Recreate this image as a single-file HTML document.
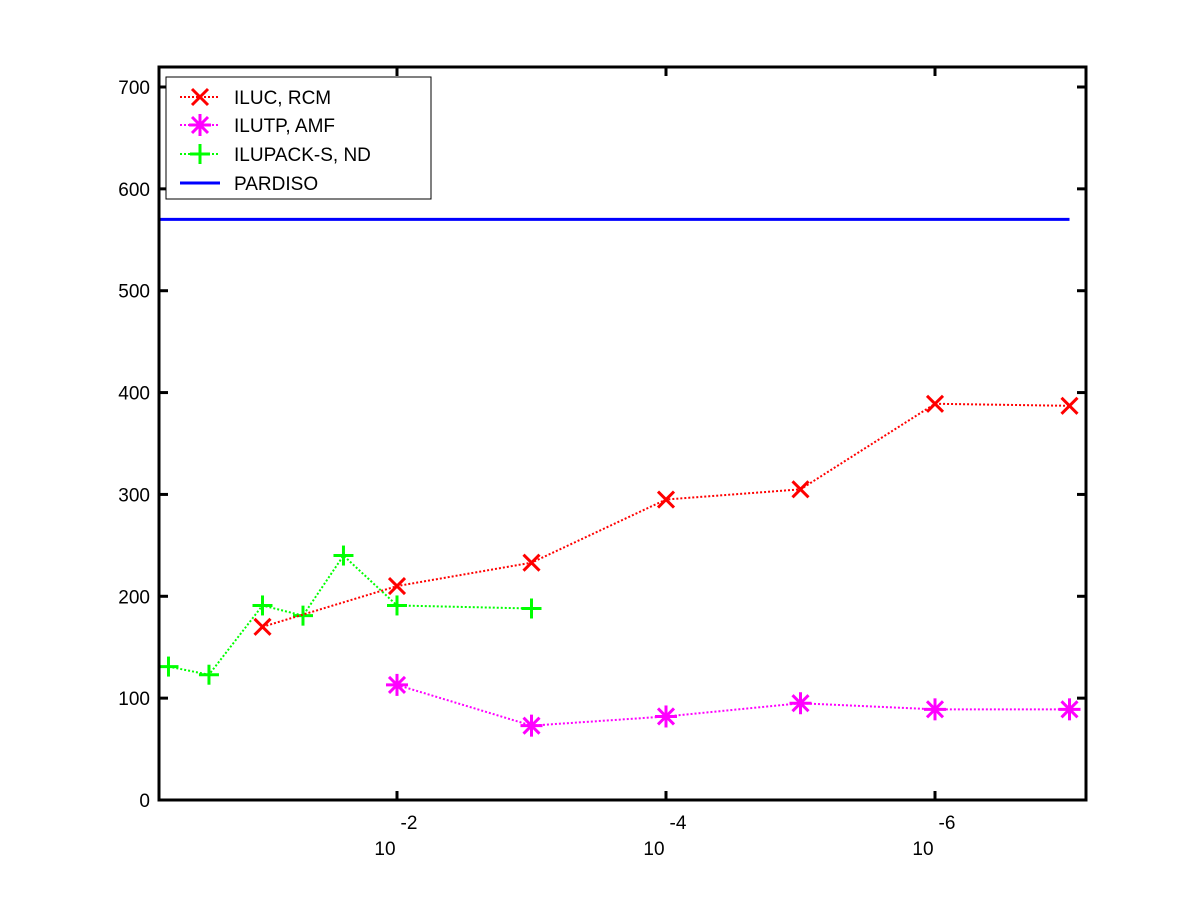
<!DOCTYPE html>
<html><head><meta charset="utf-8"><style>
body{margin:0;background:#fff;}
svg{display:block;font-family:"Liberation Sans",Arial,sans-serif;}
</style></head><body>
<svg id="chart" width="1200" height="900" viewBox="0 0 1200 900" xmlns="http://www.w3.org/2000/svg">
<rect x="0" y="0" width="1200" height="900" fill="#fff"/>
<g id="marks"></g>
<rect x="159" y="67" width="927" height="733" fill="none" stroke="#000" stroke-width="3"/>
<g id="axes"></g>
<g id="legend">
<rect x="166" y="77" width="265" height="122" fill="#fff" stroke="#000" stroke-width="1"/>
</g>
</svg>
<script>
const xExp = [-0.301, -0.602, -1, -1.301, -1.602, -2, -3, -4, -5, -6, -7];
const ilucExp = [-1, -2, -3, -4, -5, -6, -7];
const ilucVals = [170, 210, 233, 295, 305, 389, 387];
const ilutpExp = [-2, -3, -4, -5, -6, -7];
const ilutpVals = [113, 73, 82, 95, 89, 89];
const ilupackExp = [-0.301, -0.602, -1, -1.301, -1.602, -2, -3];
const ilupackVals = [131, 123, 191, 181, 240, 191, 188];
const pardisoVal = 570;
const yTicks = [0, 100, 200, 300, 400, 500, 600, 700];
const xTicks = [-2, -4, -6];
const legendLabels = ["ILUC, RCM", "ILUTP, AMF", "ILUPACK-S, ND", "PARDISO"];

const NS = "http://www.w3.org/2000/svg";
const X = e => 397 + (-e - 2) * 134.5;
const Y = v => 800 - v * (800 - 87) / 700;
function mk(tag, attrs, parent) {
  const el = document.createElementNS(NS, tag);
  for (const k in attrs) el.setAttribute(k, attrs[k]);
  parent.appendChild(el);
  return el;
}
const marks = document.getElementById('marks');
const axes = document.getElementById('axes');
const legend = document.getElementById('legend');

// PARDISO line
const pl = mk('line', {x1: 159, x2: X(-7), y1: Y(pardisoVal), y2: Y(pardisoVal), stroke: '#0000ff', 'stroke-width': 3}, marks);



function marker(type, cx, cy, color, parent) {
  const g = mk('g', {stroke: color, 'stroke-width': 3, fill: 'none'}, parent);
  const s = 8;
  if (type === 'x' || type === 'star') {
    mk('line', {x1: cx - s, y1: cy - s, x2: cx + s, y2: cy + s}, g);
    mk('line', {x1: cx - s, y1: cy + s, x2: cx + s, y2: cy - s}, g);
  }
  if (type === 'plus' || type === 'star') {
    const t = type === 'plus' ? 10 : 11;
    mk('line', {x1: cx - t, y1: cy, x2: cx + t, y2: cy}, g);
    mk('line', {x1: cx, y1: cy - t, x2: cx, y2: cy + t}, g);
  }
  return g;
}
function series(name, ex, vals, color, type) {
  const pts = ex.map((e, i) => X(e) + ',' + Y(vals[i])).join(' ');
  const line = mk('polyline', {points: pts, fill: 'none', stroke: color, 'stroke-width': 2, 'stroke-dasharray': '2,2'}, marks);
  
  
  ex.forEach((e, i) => {
    const m = marker(type, X(e), Y(vals[i]), color, marks);
    
    
  });
}
series('ilupack', ilupackExp, ilupackVals, '#00ff00', 'plus');
series('iluc', ilucExp, ilucVals, '#ff0000', 'x');
series('ilutp', ilutpExp, ilutpVals, '#ff00ff', 'star');

// y ticks
yTicks.forEach(v => {
  const y = Y(v);
  mk('line', {x1: 159, x2: 168, y1: y, y2: y, stroke: '#000', 'stroke-width': 3}, axes);
  mk('line', {x1: 1077, x2: 1086, y1: y, y2: y, stroke: '#000', 'stroke-width': 3}, axes);
  const t = mk('text', {x: 150, y: y + 7, 'text-anchor': 'end', 'font-size': 19}, axes);
  t.textContent = v;
  
  
});
// x ticks
xTicks.forEach(e => {
  const x = X(e);
  mk('line', {x1: x, x2: x, y1: 791, y2: 800, stroke: '#000', 'stroke-width': 3}, axes);
  mk('line', {x1: x, x2: x, y1: 67, y2: 76, stroke: '#000', 'stroke-width': 3}, axes);
  const t = mk('text', {x: x - 12, y: 855, 'text-anchor': 'middle', 'font-size': 19}, axes);
  t.textContent = '10';
  
  
  const s = mk('text', {x: x + 12, y: 829, 'text-anchor': 'middle', 'font-size': 19}, axes);
  s.textContent = String(e);
  
  
});

// legend
const lColors = ['#ff0000', '#ff00ff', '#00ff00', '#0000ff'];
const lTypes = ['x', 'star', 'plus', null];
const lY = [97, 125, 154, 183];
legendLabels.forEach((lab, i) => {
  const y = lY[i];
  const ln = mk('line', {x1: 180, x2: 220, y1: y, y2: y, stroke: lColors[i], 'stroke-width': i === 3 ? 3 : 2, 'stroke-dasharray': i === 3 ? 'none' : '2,2'}, legend);
  
  
  if (lTypes[i]) marker(lTypes[i], 200, y, lColors[i], legend);
  const t = mk('text', {x: 234, y: y + 7, 'font-size': 19}, legend);
  t.textContent = lab;
  
  
});
</script>
</body></html>
